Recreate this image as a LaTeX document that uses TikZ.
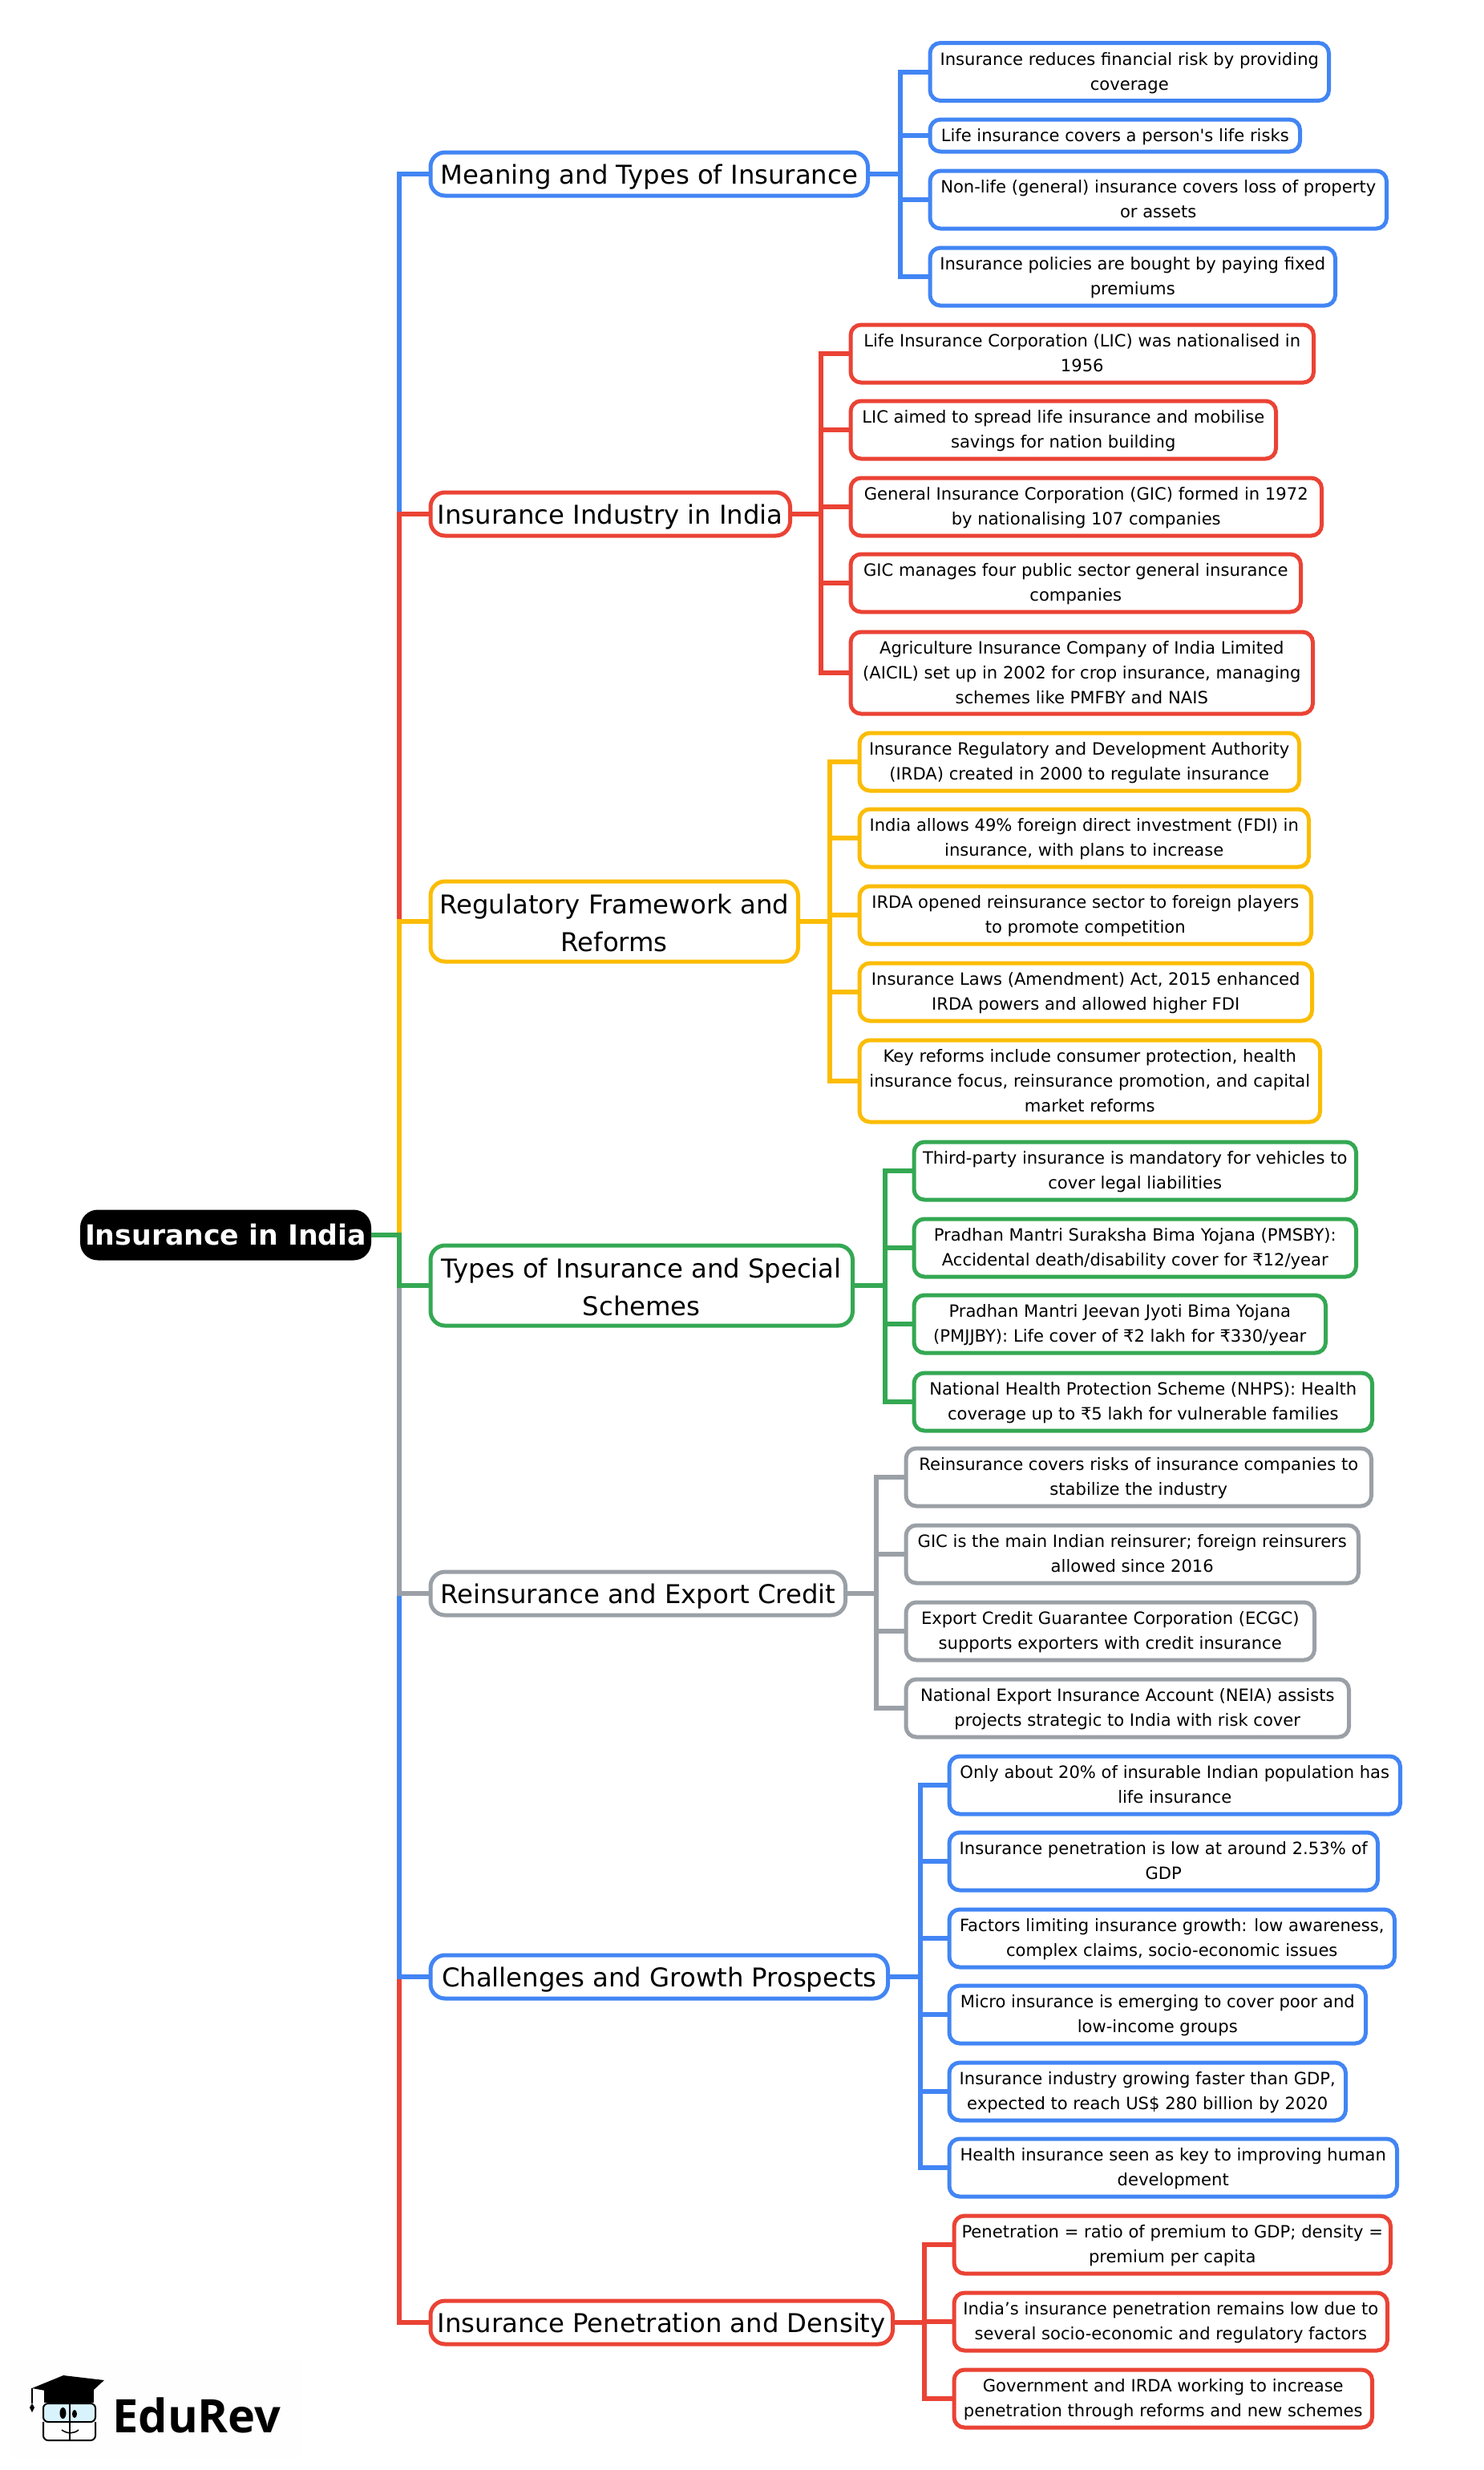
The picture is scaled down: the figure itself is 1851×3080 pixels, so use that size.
\documentclass[tikz,border=0pt]{standalone}
\usepackage{fontspec}
\newfontfamily\dejavu{DejaVu Sans}
\newfontfamily\logofont{Open Sans}
\definecolor{cblue}{HTML}{4285F4}
\definecolor{cred}{HTML}{EA4335}
\definecolor{cyellow}{HTML}{FBBC04}
\definecolor{cgreen}{HTML}{34A853}
\definecolor{cgray}{HTML}{9AA0A6}
\tikzset{
  wire/.style={line width=3pt,miter limit=10},
  struts/.style n args={2}{execute at begin node={\rule{0pt}{#1}},execute at end node={\rule[-#2]{0pt}{#2}}},
  rootbox/.style={fill=black,text=white,rounded corners=11pt,inner sep=0pt,outer sep=0pt,align=center,struts={16pt}{3.3pt},
    font=\dejavu\bfseries\fontsize{17.35}{20}\selectfont},
  branchbox/.style={draw=#1,fill=white,line width=2.5pt,rounded corners=9pt,inner sep=0pt,outer sep=0pt,align=center,
    struts={\ifnum\h>60 41pt\else 16pt\fi}{3.5pt},
    font=\dejavu\fontsize{16.15}{23.5}\selectfont},
  leafbox/.style={draw=#1,fill=white,line width=2.5pt,rounded corners=6.5pt,inner sep=0pt,outer sep=0pt,align=center,
    struts={\ifnum\h>100 41pt\else\ifnum\h>50 25.5pt\else 10pt\fi\fi}{2.7pt},
    font=\dejavu\fontsize{10.55}{15.5}\selectfont},
}
\begin{document}
\begin{tikzpicture}[x=0.5pt,y=-0.5pt]
    \useasboundingbox (0,0) rectangle (1851,3080);

    \node[rootbox,minimum width=181.5pt,minimum height=31.5pt] (root) at (281.5,1540) {Insurance in India};
    \coordinate (spine) at (498,1540);

    % branches
    \foreach \k/\c/\r/\y/\h/\txt in {
        m1/cblue/1085/217/59/{Meaning and Types of Insurance},
        m2/cred/988/641/59/{Insurance Industry in India},
        m3/cyellow/998/1149/105/{Regulatory Framework and\\Reforms},
        m7/cred/1116/2896/59/{Insurance Penetration and Density},
        m6/cblue/1110/2465/59/{Challenges and Growth Prospects},
        m5/cgray/1057/1987/59/{Reinsurance and Export Credit},
        m4/cgreen/1066/1603/105/{Types of Insurance and Special\\Schemes}}{
      \node[branchbox=\c,minimum width={(\r-534.5-5)*0.5pt},minimum height={(\h-5)*0.5pt}] (\k) at ({(534.5+\r)/2},\y) {\txt};
      \draw[wire,\c] (root.east) -- (spine) |- (\k.west);
    }

    % leaves
    \coordinate (bus1) at (1122.5,217);
    \foreach \k/\r/\y/\h/\txt in {
        a1/1660/89.5/77/{Insurance reduces financial risk by providing\\coverage},
        a2/1624/169/45/{Life insurance covers a person's life risks},
        a3/1732/249/77/{Non-life (general) insurance covers loss of property\\or assets},
        a4/1668/345/77/{Insurance policies are bought by paying fixed\\premiums}}{
      \node[leafbox=cblue,minimum width={(\r-1157.5-5)*0.5pt},minimum height={(\h-5)*0.5pt}] (\k) at ({(1157.5+\r)/2},\y) {\txt};
      \draw[wire,cblue] (m1.east) -- (bus1) |- (\k.west);
    }

    \coordinate (bus2) at (1024,641);
    \foreach \k/\r/\y/\h/\txt in {
        b1/1641/441/77/{Life Insurance Corporation (LIC) was nationalised in\\1956},
        b2/1594/536/77/{LIC aimed to spread life insurance and mobilise\\savings for nation building},
        b3/1651/632/77/{General Insurance Corporation (GIC) formed in 1972\\by nationalising 107 companies},
        b4/1625/727/77/{GIC manages four public sector general insurance\\companies},
        b5/1640/839/107/{Agriculture Insurance Company of India Limited\\(AICIL) set up in 2002 for crop insurance, managing\\schemes like PMFBY and NAIS}}{
      \node[leafbox=cred,minimum width={(\r-1058.5-5)*0.5pt},minimum height={(\h-5)*0.5pt}] (\k) at ({(1058.5+\r)/2},\y) {\txt};
      \draw[wire,cred] (m2.east) -- (bus2) |- (\k.west);
    }

    \coordinate (bus3) at (1035,1149);
    \foreach \k/\r/\y/\h/\txt in {
        c1/1623/950/77/{Insurance Regulatory and Development Authority\\(IRDA) created in 2000 to regulate insurance},
        c2/1635/1045/77/{India allows 49\% foreign direct investment (FDI) in\\insurance, with plans to increase},
        c3/1638/1141/77/{IRDA opened reinsurance sector to foreign players\\to promote competition},
        c4/1639/1237/77/{Insurance Laws (Amendment) Act, 2015 enhanced\\IRDA powers and allowed higher FDI},
        c5/1649/1348/107/{Key reforms include consumer protection, health\\insurance focus, reinsurance promotion, and capital\\market reforms}}{
      \node[leafbox=cyellow,minimum width={(\r-1069.5-5)*0.5pt},minimum height={(\h-5)*0.5pt}] (\k) at ({(1069.5+\r)/2},\y) {\txt};
      \draw[wire,cyellow] (m3.east) -- (bus3) |- (\k.west);
    }

    \coordinate (bus4) at (1103.5,1603);
    \foreach \k/\r/\y/\h/\txt in {
        d1/1694/1460/77/{Third-party insurance is mandatory for vehicles to\\cover legal liabilities},
        d2/1694/1556/77/{Pradhan Mantri Suraksha Bima Yojana (PMSBY):\\Accidental death/disability cover for ₹12/year},
        d3/1656/1651/77/{Pradhan Mantri Jeevan Jyoti Bima Yojana\\(PMJJBY): Life cover of ₹2 lakh for ₹330/year},
        d4/1714/1748/77/{National Health Protection Scheme (NHPS): Health\\coverage up to ₹5 lakh for vulnerable families}}{
      \node[leafbox=cgreen,minimum width={(\r-1137.5-5)*0.5pt},minimum height={(\h-5)*0.5pt}] (\k) at ({(1137.5+\r)/2},\y) {\txt};
      \draw[wire,cgreen] (m4.east) -- (bus4) |- (\k.west);
    }

    \coordinate (bus5) at (1093,1987);
    \foreach \k/\r/\y/\h/\txt in {
        e1/1713/1842/77/{Reinsurance covers risks of insurance companies to\\stabilize the industry},
        e2/1697/1938/77/{GIC is the main Indian reinsurer; foreign reinsurers\\allowed since 2016},
        e3/1642/2034/77/{Export Credit Guarantee Corporation (ECGC)\\supports exporters with credit insurance},
        e4/1685/2130/77/{National Export Insurance Account (NEIA) assists\\projects strategic to India with risk cover}}{
      \node[leafbox=cgray,minimum width={(\r-1127.5-5)*0.5pt},minimum height={(\h-5)*0.5pt}] (\k) at ({(1127.5+\r)/2},\y) {\txt};
      \draw[wire,cgray] (m5.east) -- (bus5) |- (\k.west);
    }

    \coordinate (bus6) at (1147.5,2465);
    \foreach \k/\r/\y/\h/\txt in {
        f1/1749/2226/77/{Only about 20\% of insurable Indian population has\\life insurance},
        f2/1721/2321/77/{Insurance penetration is low at around 2.53\% of\\GDP},
        f3/1742/2417/77/{Factors limiting insurance growth: low awareness,\\complex claims, socio-economic issues},
        f4/1706/2512/77/{Micro insurance is emerging to cover poor and\\low-income groups},
        f5/1681/2608/77/{Insurance industry growing faster than GDP,\\expected to reach US\$ 280 billion by 2020},
        f6/1745/2703/77/{Health insurance seen as key to improving human\\development}}{
      \node[leafbox=cblue,minimum width={(\r-1181.5-5)*0.5pt},minimum height={(\h-5)*0.5pt}] (\k) at ({(1181.5+\r)/2},\y) {\txt};
      \draw[wire,cblue] (m6.east) -- (bus6) |- (\k.west);
    }

    \coordinate (bus7) at (1153,2896);
    \foreach \k/\r/\y/\h/\txt in {
        g1/1737/2799/77/{Penetration = ratio of premium to GDP; density =\\premium per capita},
        g2/1733/2895/77/{India’s insurance penetration remains low due to\\several socio-economic and regulatory factors},
        g3/1714/2991/77/{Government and IRDA working to increase\\penetration through reforms and new schemes}}{
      \node[leafbox=cred,minimum width={(\r-1187.5-5)*0.5pt},minimum height={(\h-5)*0.5pt}] (\k) at ({(1187.5+\r)/2},\y) {\txt};
      \draw[wire,cred] (m7.east) -- (bus7) |- (\k.west);
    }

    % logo
    \fill[fill=black!0.4] (13,2943) rectangle (377,3065);
    \node[anchor=west,inner sep=0pt,font=\logofont\bfseries\fontsize{28.8}{30}\selectfont] (logo) at (140,3012) {EduRev};
    \fill[black] (55,2979) -- (117,2979) -- (117,2996) -- (55,2996) -- cycle;
    \fill[cyan!15!white,draw=black,line width=1pt,rounded corners=3pt] (54,2997) rectangle (119,3020);
    \draw[black,line width=1pt,rounded corners=3pt] (54,3020) -- (54,3043) -- (119,3043) -- (119,3020);
    \draw[black,line width=1pt] (87,2996) -- (87,3043);
    \fill[black] (40,2978) -- (79,2962) -- (130,2968) -- (106,2990) -- cycle;
    \draw[black,line width=0.8pt] (40,2978) -- (40,2997);
    \fill[black] (40,2997) -- (43,3002) -- (40,3008) -- (37,3002) -- cycle;
    \fill[black] (78.5,3009) ellipse (4 and 7);
    \fill[black] (93,3010) ellipse (3 and 5);
    \draw[black,line width=0.8pt] (77,3030) .. controls (84,3035) and (92,3035) .. (98,3030);
\end{tikzpicture}
\end{document}
